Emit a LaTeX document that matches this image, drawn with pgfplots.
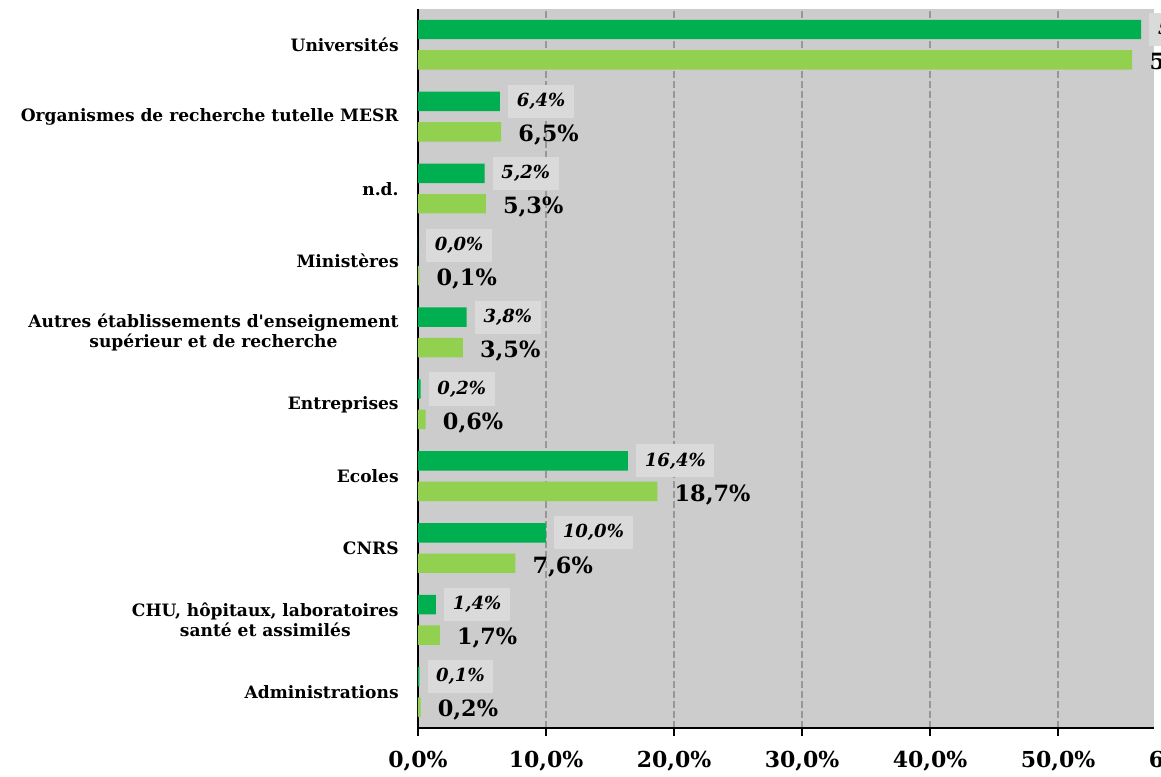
\documentclass[border=0pt]{standalone}
\usepackage{fontspec}
\setmainfont{DejaVu Serif}[Ligatures=TeXOff]
\usepackage{pgfplots}
\pgfplotsset{compat=1.18}
\definecolor{dgreen}{HTML}{00B050}
\definecolor{lgreen}{HTML}{92D050}
\definecolor{plotbg}{HTML}{CCCCCC}
\definecolor{lblbg}{HTML}{DADADA}
\definecolor{gridc}{HTML}{979797}
\begin{document}
\begin{tikzpicture}
\begin{axis}[
  at={(0,0)}, anchor=south west,
  scale only axis, width=552pt, height=539.25pt,
  xmin=0, xmax=57.5, ymin=-0.5, ymax=9.5,
  axis background/.style={fill=plotbg},
  axis x line*=bottom, axis y line*=left,
  axis line style={black, line width=0.8pt},
  xtick={0,10,...,50},
  xticklabels={{0,0\%},{10,0\%},{20,0\%},{30,0\%},{40,0\%},{50,0\%}},
  xmajorgrids, grid style={gridc, dash pattern=on 5pt off 2.5pt, line width=1.5pt},
  tick align=outside, major tick length=6pt, minor tick length=6pt,
  xtick style={black, line width=0.8pt},
  ytick={0,...,9},
  yticklabels={Administrations,{CHU, hôpitaux, laboratoires\\santé et assimilés},CNRS,Ecoles,Entreprises,{Autres établissements d'enseignement\\supérieur et de recherche},Ministères,n.d.,Organismes de recherche tutelle MESR,Universités},
  ytick style={draw=none},
  minor ytick={-0.5,0.5,...,9.5},
  minor y tick style={black, line width=0.8pt},
  y tick label style={font=\bfseries\fontsize{12.8}{15}\selectfont, align=center, xshift=-5pt},
  x tick label style={font=\bfseries\fontsize{16.5}{18}\selectfont, yshift=-8pt},
  xbar, bar width=14.6pt,
  clip=false,
  point meta=x,
  nodes near coords={\pgfmathprintnumber[fixed,fixed zerofill,precision=1,use comma,assume math mode=true]{\pgfplotspointmeta}\%},
]
\addplot[fill=dgreen, draw=none, bar shift=11.6pt,
  every node near coord/.append style={anchor=west, fill=lblbg, inner xsep=6.5pt, inner ysep=6.3pt, xshift=6pt, text=black, font=\bfseries\itshape\fontsize{13.5}{15}\selectfont}]
  coordinates {(0.1,0) (1.4,1) (10.0,2) (16.4,3) (0.2,4) (3.8,5) (0.0,6) (5.2,7) (6.4,8) (56.5,9)};
\addplot[fill=lgreen, draw=none, bar shift=-11.25pt,
  every node near coord/.append style={anchor=west, inner sep=0pt, xshift=12.75pt, yshift=-2.5pt, text=black, font=\bfseries\fontsize{16.8}{18}\selectfont}]
  coordinates {(0.2,0) (1.7,1) (7.6,2) (18.7,3) (0.6,4) (3.5,5) (0.1,6) (5.3,7) (6.5,8) (55.8,9)};
\node[anchor=north, font=\bfseries\fontsize{16.5}{18}\selectfont, yshift=-14pt] at (axis cs:60,-0.5) {60,0\%};
\end{axis}
\pgfresetboundingbox
\useasboundingbox (-313.5pt,-36pt) rectangle (557.25pt,546pt);
\end{tikzpicture}
\end{document}
